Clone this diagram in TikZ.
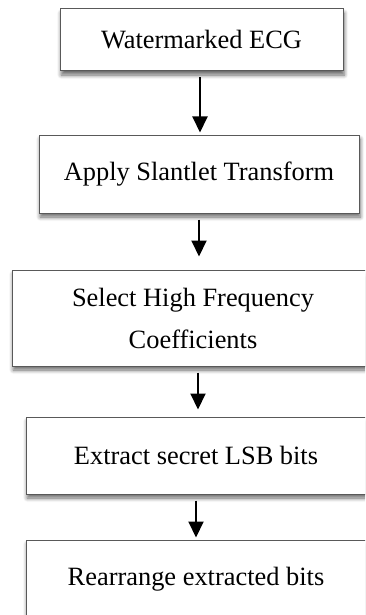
\documentclass[tikz,border=0pt]{standalone}
\usepackage{fontspec}
\setmainfont{Liberation Serif}
\usetikzlibrary{arrows.meta,shadows.blur}

\tikzset{
  stepbox/.style={draw=black!65, line width=0.5pt, fill=white, inner sep=0pt,
    align=center, font=\fontsize{13.2}{21}\selectfont,
    blur shadow={shadow xshift=0.6pt, shadow yshift=-2pt, shadow blur radius=2pt,
      shadow blur steps=6, shadow opacity=60}},
  flow/.style={line width=1pt, -{Triangle[width=7.5pt,length=8pt]}}
}

\begin{document}
\begin{tikzpicture}[x=0.5pt, y=-0.5pt]
 %page frame
 \useasboundingbox (0,0) rectangle (365,615);
 \clip (0,0) rectangle (365,615);

 %steps of the extraction
 \node [stepbox, minimum width=141.5pt, minimum height=31pt] (mark) at (201.5,40) {Watermarked ECG};
 \node [stepbox, minimum width=160pt, minimum height=39pt] (slant) at (199,174) {Apply Slantlet Transform};
 \node [stepbox, minimum width=181pt, minimum height=48pt] (select) at (193,318) {Select High Frequency\\Coefficients};
 \node [stepbox, minimum width=170pt, minimum height=38.5pt] (lsb) at (196,455.5) {Extract secret LSB bits};
 \node [stepbox, minimum width=170pt, minimum height=39pt] (order) at (196,579) {Rearrange extracted bits};

 %arrows between steps
 \draw [flow, shorten <=3pt, shorten >=1pt] ([xshift=-0.75pt]mark.south) -- ([xshift=-0.75pt]mark.south |- slant.north);
 \draw [flow, shorten <=3pt, shorten >=6.5pt] (slant.south) -- (slant.south |- select.north);
 \draw [flow, shorten <=3pt, shorten >=3.5pt] ([xshift=2.5pt]select.south) -- ([xshift=2.5pt]select.south |- lsb.north);
 \draw [flow, shorten <=3pt, shorten >=1pt] (lsb.south) -- (lsb.south |- order.north);
\end{tikzpicture}
\end{document}
